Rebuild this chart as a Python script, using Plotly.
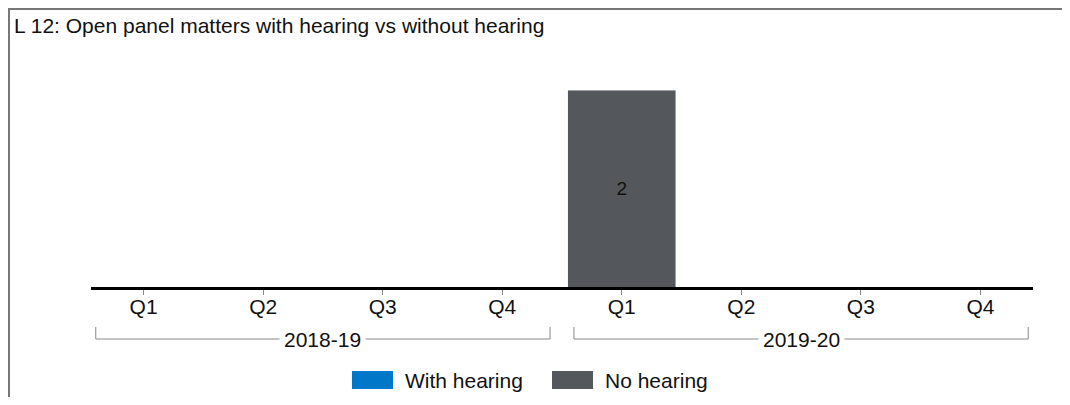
import plotly.graph_objects as go

# data
quarters = ["Q1", "Q2", "Q3", "Q4", "Q1", "Q2", "Q3", "Q4"]
years = ["2018-19", "2019-20"]
with_hearing = [0, 0, 0, 0, 0, 0, 0, 0]
no_hearing = [0, 0, 0, 0, 2, 0, 0, 0]
series_names = ["With hearing", "No hearing"]
series_colors = ["#0077C8", "#54575B"]

# page body has an 8px margin, so the figure starts at (8, 8) on screen;
# keep the page inside the 1070x405 window so no scrollbars show up
OFF = 8
W, H = 1070 - OFF, 405 - 2 * OFF
L, T = 91 - OFF, 90 - OFF
R = (OFF + W) - 1033
B = H - (287 - OFF)
FONT = "Liberation Sans, Arial, sans-serif"


# screen pixel -> paper helpers
def px_x(px):
    return (px - OFF - L) / (W - L - R)


def px_y(py):
    return (H - B - (py - OFF)) / (H - T - B)


idx = list(range(len(quarters)))

fig = go.Figure()
for name, vals, col in zip(series_names, [with_hearing, no_hearing], series_colors):
    fig.add_trace(go.Bar(
        x=idx, y=vals, name=name, marker_color=col,
        text=[str(v) if v else "" for v in vals],
        textposition="inside", insidetextanchor="middle",
        textangle=0, textfont=dict(size=19, color="#111111", family=FONT),
        showlegend=False,
    ))

fig.update_layout(
    width=W, height=H,
    margin=dict(l=L, r=R, t=T, b=B),
    barmode="stack", bargap=0.1,
    plot_bgcolor="white", paper_bgcolor="white",
    font=dict(family=FONT, color="#111111"),
)
fig.update_xaxes(
    range=[-0.44, 7.44], tickvals=idx, ticktext=quarters,
    showline=True, linecolor="black", linewidth=3,
    ticks="outside", ticklen=5, tickcolor="#888888", tickwidth=1,
    ticklabelstandoff=-6,
    tickfont=dict(size=21, color="#111111"), showgrid=False, zeroline=False,
)
fig.update_yaxes(range=[0, 2], visible=False, showgrid=False)

# outer frame
fig.add_shape(type="rect", xref="paper", yref="paper",
              x0=px_x(9), x1=px_x(1064), y0=px_y(460), y1=px_y(9),
              line=dict(color="#777777", width=2), fillcolor="rgba(0,0,0,0)")

# title
fig.add_annotation(text="L 12: Open panel matters with hearing vs without hearing",
                   xref="paper", yref="paper", x=px_x(12), y=px_y(26),
                   xanchor="left", yanchor="middle", showarrow=False,
                   font=dict(size=21, color="#111111"))

# year brackets
yb_top, yb_line = px_y(327), px_y(339)
for g, yr in enumerate(years):
    i0, i1 = g * 4, g * 4 + 3
    x0, x1 = i0 - 0.4, i1 + 0.4
    fig.add_shape(type="path", xref="x", yref="paper",
                  path=f"M {x0},{yb_top} L {x0},{yb_line} L {x1},{yb_line} L {x1},{yb_top}",
                  line=dict(color="#888888", width=1))
    fig.add_annotation(text=yr, xref="x", yref="paper", x=(i0 + i1) / 2, y=yb_line,
                       xanchor="center", yanchor="middle", showarrow=False,
                       bgcolor="white", borderpad=4,
                       font=dict(size=21, color="#111111"))

# legend
legend_pos = [(352, 403), (552, 603)]
for (sx, tx), name, col in zip(legend_pos, series_names, series_colors):
    fig.add_shape(type="rect", xref="paper", yref="paper",
                  x0=px_x(sx), x1=px_x(sx + 41), y0=px_y(389), y1=px_y(371),
                  fillcolor=col, line=dict(width=0))
    fig.add_annotation(text=name, xref="paper", yref="paper", x=px_x(tx), y=px_y(380),
                       xanchor="left", yanchor="middle", showarrow=False,
                       font=dict(size=21, color="#111111"))

fig.write_html("out.html")
